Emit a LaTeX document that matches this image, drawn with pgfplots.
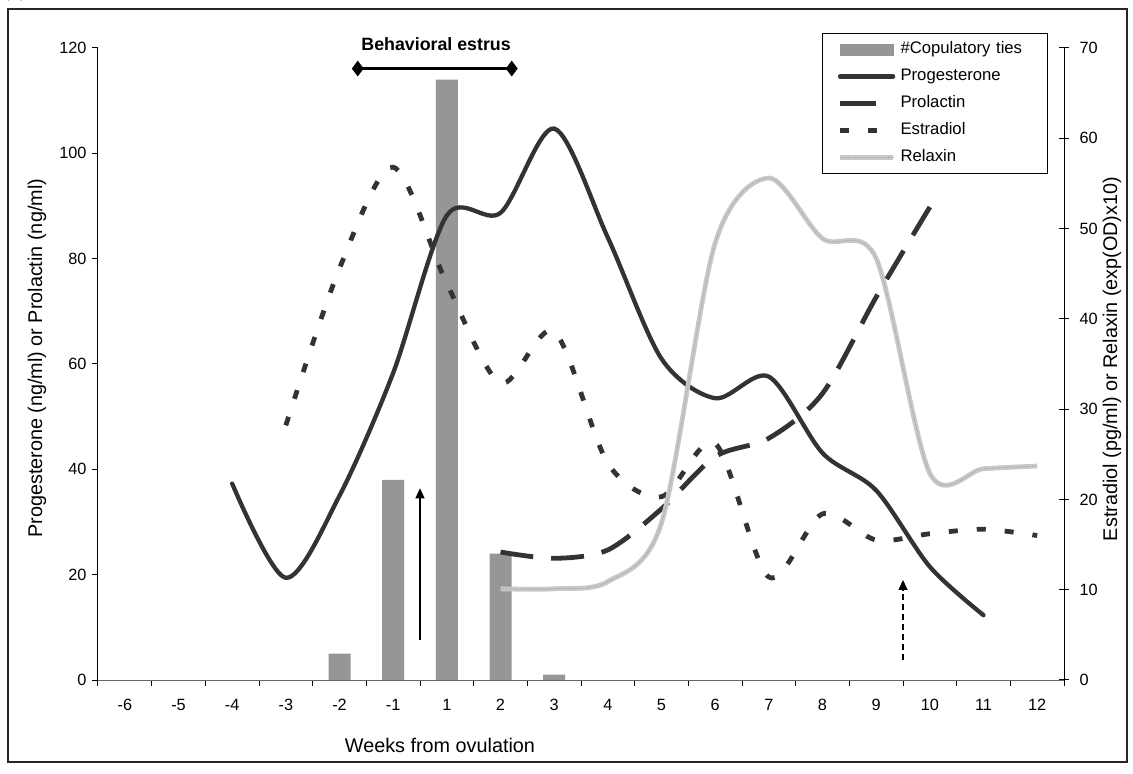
\documentclass[border=0pt]{standalone}
\usepackage{pgfplots}
\pgfplotsset{compat=1.18}
\usepackage{fontspec}
\setmainfont{Liberation Sans}
\usetikzlibrary{arrows.meta}
\definecolor{barc}{RGB}{150,150,150}
\definecolor{dark}{RGB}{51,51,51}
\definecolor{relax}{RGB}{200,200,200}
\definecolor{relaxd}{RGB}{165,165,165}
\begin{document}
\begin{tikzpicture}[x=1pt,y=1pt]
\useasboundingbox (0,0) rectangle (1133,774);
\draw[line width=1.2pt, black!85] (8,12) rectangle (1127,765);
\node[anchor=base west, inner sep=0, font=\fontsize{16}{18}\selectfont] at (4,776) {(A)};
\begin{axis}[
  at={(98pt,94pt)}, anchor=south west,
  scale only axis, width=966pt, height=632pt,
  xmin=-0.5, xmax=17.5, ymin=0, ymax=120,
  clip=false,
  axis x line*=bottom, axis y line*=left,
  x axis line style={black!60, line width=1pt, -},
  y axis line style={black, line width=1pt, -},
  tick style={black, line width=1pt},
  tick align=outside, major tick length=6pt,
  xtick={-0.5,0.5,...,17.5}, xticklabels={},
  extra x ticks={0,1,...,17},
  extra x tick labels={-6,-5,-4,-3,-2,-1,1,2,3,4,5,6,7,8,9,10,11,12},
  extra x tick style={major tick length=0pt, xticklabel style={yshift=-16pt}},
  ytick={0,20,...,120},
  yticklabel style={xshift=-2pt},
  /pgf/number format/assume math mode=true,
  tick label style={font=\fontsize{16.3}{19}\selectfont},
  xlabel={Weeks from ovulation},
  ylabel={Progesterone (ng/ml) or Prolactin (ng/ml)},
  every axis x label/.style={at={(axis description cs:0.354,0)}, yshift=-65pt, anchor=center, font=\fontsize{19.8}{23}\selectfont},
  every axis y label/.style={at={(axis description cs:-0.0631,0.509)}, rotate=90, anchor=center, font=\fontsize{19.8}{23}\selectfont},
]
\addplot[ybar, bar width=0.41, fill=barc, draw=none, bar shift=0pt] coordinates {(4,5) (5,38) (6,114) (7,24) (8,1)};
\addplot[dark, line width=4.3pt, smooth, tension=0.5, line cap=round] coordinates {
 (2,37.3) (3,19.4) (4,35) (5,58.3) (6,88.2) (7,88.7) (8,104.7) (9,84) (10,61)
 (11,53.5) (12,57.6) (13,43.1) (14,36) (15,21.5) (16,12.3)};
\addplot[dark, line width=4.8pt, smooth, tension=0.5, dash pattern=on 33pt off 18pt] coordinates {
 (7,24.3) (8,23.1) (9,24.7) (10,32.5) (11,42.4) (12,45.9) (13,54.4) (14,72.7) (15,89.8)};
\addplot[black, line width=3.5pt, mark=diamond*, mark size=5pt, mark options={solid}] coordinates {(4.34,116.1) (7.21,116.1)};
\addplot[black, line width=1.3pt, -{Triangle[width=9pt,length=10pt]}] coordinates {(5.5,7.6) (5.5,36.4)};
\addplot[black, line width=1.3pt, dash pattern=on 6pt off 4pt, -{Triangle[width=9pt,length=10pt]}] coordinates {(14.5,3.8) (14.5,19.0)};
\node[font=\bfseries\fontsize{17.8}{20}\selectfont] at (axis cs:5.8,120.7) {Behavioral estrus};
\end{axis}
\begin{axis}[
  at={(98pt,94pt)}, anchor=south west,
  scale only axis, width=966pt, height=632pt,
  xmin=-0.5, xmax=17.5, ymin=0, ymax=70,
  clip=false,
  axis x line=none, axis y line*=right,
  y axis line style={black, line width=1pt, -},
  tick style={black, line width=1pt},
  tick align=center, major tick length=10pt,
  ytick={0,10,...,70},
  yticklabel style={xshift=7pt},
  /pgf/number format/assume math mode=true,
  tick label style={font=\fontsize{16.3}{19}\selectfont},
  ylabel={Estradiol (pg/ml) or Relaxin (exp(OD)x10)},
  every axis y label/.style={at={(axis description cs:1.0497,0.508)}, rotate=90, anchor=center, font=\fontsize{19.8}{23}\selectfont},
  legend image code/.code={\draw[#1] (0pt,0pt) -- (53pt,0pt);},
  legend style={at={(0.9834,1.0237)}, anchor=north east, draw=black, line width=0.9pt,
    font=\fontsize{16.7}{19}\selectfont, inner xsep=15pt, inner ysep=7pt, row sep=9pt,
    nodes={inner sep=1pt, text height=12.5pt, text depth=3.5pt, text width=131pt},
    /tikz/every odd column/.append style={column sep=4pt}},
  legend cell align=left,
]
\addlegendimage{legend image code/.code={\fill[barc] (0pt,-5.5pt) rectangle (53pt,5.5pt);}}
\addlegendentry{\#Copulatory ties}
\addlegendimage{dark, line width=4.3pt, line cap=round}
\addlegendentry{Progesterone}
\addlegendimage{dark, line width=4.8pt, dash pattern=on 36pt off 30pt}
\addlegendentry{Prolactin}
\addplot[dark, line width=4.8pt, smooth, tension=0.5, dash pattern=on 9pt off 19pt] coordinates {
 (3,28.2) (4,45.6) (5,56.8) (6,43.9) (7,32.9) (8,38.6) (9,24.0) (10,20.3) (11,26.2)
 (12,11.4) (13,18.4) (14,15.5) (15,16.2) (16,16.7) (17,16.0)};
\addlegendentry{Estradiol}
\addplot[relax, line width=4.8pt, smooth, tension=0.5,
  postaction={draw, relaxd, line width=1pt, dash pattern=on 1pt off 1.5pt}] coordinates {
 (7,10.1) (8,10.1) (9,10.9) (10,17.4) (11,48.4) (12,55.6) (13,48.9) (14,46.7)
 (15,22.9) (16,23.4) (17,23.7)};
\addlegendentry{Relaxin}
\end{axis}
\end{tikzpicture}
\end{document}
